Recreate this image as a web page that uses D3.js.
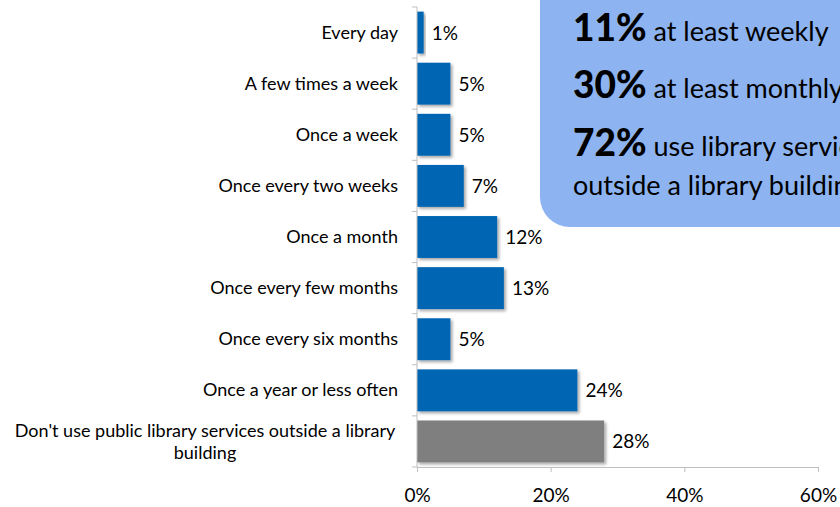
<!DOCTYPE html>
<html>
<head>
<meta charset="utf-8">
<script src="https://cdn.jsdelivr.net/npm/d3@7/dist/d3.min.js"></script>
<style>
  html, body { margin: 0; padding: 0; background: #fff; }
  svg { display: block; font-family: Lato, "Open Sans", sans-serif; }
</style>
</head>
<body>
<svg id="chart" width="840" height="507"></svg>
<script>
// Frequency of using public library services outside a library building
const categories = [
  "Every day",
  "A few times a week",
  "Once a week",
  "Once every two weeks",
  "Once a month",
  "Once every few months",
  "Once every six months",
  "Once a year or less often",
  "Don't use public library services outside a library building"
];
const values = [1, 5, 5, 7, 12, 13, 5, 24, 28];
const barColors = ["#0066B3", "#0066B3", "#0066B3", "#0066B3", "#0066B3", "#0066B3", "#0066B3", "#0066B3", "#7F7F7F"];
const xTicks = [0, 20, 40, 60];

// Summary callout lines: [bold figure, text]
const calloutLines = [
  ["11%", " at least weekly"],
  ["30%", " at least monthly"],
  ["72%", " use library services"],
  ["", "outside a library building"]
];

const svg = d3.select("#chart");
const FONT = "Lato, 'Open Sans', sans-serif";

const x = d3.scaleLinear().domain([0, 60]).range([417, 818]);
const y = d3.scaleBand().domain(categories).range([7, 467]).paddingInner(0.18).paddingOuter(0.09);

const defs = svg.append("defs");
const f = defs.append("filter").attr("id", "shadow").attr("x", "-10%").attr("y", "-20%").attr("width", "130%").attr("height", "150%");
f.append("feDropShadow").attr("dx", 2).attr("dy", 2).attr("stdDeviation", 1.5).attr("flood-color", "#000").attr("flood-opacity", 0.35);

// Bars
svg.append("g").selectAll("rect").data(values).join("rect")
  .attr("x", x(0))
  .attr("y", (d, i) => y(categories[i]))
  .attr("width", d => x(d) - x(0))
  .attr("height", y.bandwidth())
  .attr("fill", (d, i) => barColors[i])
  .attr("filter", "url(#shadow)");

// Value labels
svg.append("g").selectAll("text").data(values).join("text")
  .attr("x", d => x(d) + 8)
  .attr("y", (d, i) => y(categories[i]) + y.bandwidth() / 2 + 7)
  .attr("font-size", 19)
  .attr("fill", "#000")
  .text(d => d + "%");

// Y axis line and tick marks between categories
const axisColor = "#BFBFBF";
svg.append("line").attr("x1", x(0)).attr("x2", x(0)).attr("y1", 7).attr("y2", 467)
  .attr("stroke", axisColor).attr("stroke-width", 1);
const bounds = d3.range(categories.length + 1).map(i => 7 + i * (460 / categories.length));
svg.append("g").selectAll("line").data(bounds).join("line")
  .attr("x1", x(0) - 5).attr("x2", x(0))
  .attr("y1", d => d).attr("y2", d => d)
  .attr("stroke", axisColor);

// Category labels (the long one wraps onto two centred lines)
const labelG = svg.append("g").attr("font-size", 18).attr("fill", "#000").attr("text-anchor", "end");
categories.forEach((c, i) => {
  const cy = y(c) + y.bandwidth() / 2;
  if (c.length > 40) {
    const t = labelG.append("text").attr("text-anchor", "middle");
    t.append("tspan").attr("x", 205).attr("y", cy - 4).text("Don't use public library services outside a library");
    t.append("tspan").attr("x", 205).attr("y", cy + 18).text("building");
  } else {
    labelG.append("text").attr("x", 398).attr("y", cy + 6).text(c);
  }
});

// X axis
const xAxis = d3.axisBottom(x).tickValues(xTicks).tickFormat(d => d + "%").tickSize(5).tickSizeOuter(0);
const gx = svg.append("g").attr("transform", "translate(0,467)").call(xAxis);
gx.select(".domain").attr("stroke", axisColor);
gx.selectAll(".tick line").attr("stroke", axisColor);
gx.selectAll(".tick text").attr("font-size", 19).attr("fill", "#000").attr("font-family", FONT).attr("y", 22).attr("dy", "0.71em");

// Callout box (runs past the top and right edges of the page)
svg.append("rect")
  .attr("x", 540).attr("y", -40).attr("width", 340).attr("height", 267)
  .attr("rx", 30).attr("ry", 30)
  .attr("fill", "#8DB4F0");

const baselines = [41, 98, 156, 195];
calloutLines.forEach((ln, i) => {
  const t = svg.append("text").attr("x", 573).attr("y", baselines[i]).attr("fill", "#000");
  if (ln[0]) t.append("tspan").attr("font-size", 37).attr("font-weight", 900).text(ln[0]);
  t.append("tspan").attr("font-size", 27).text(ln[1]);
});
</script>
</body>
</html>
